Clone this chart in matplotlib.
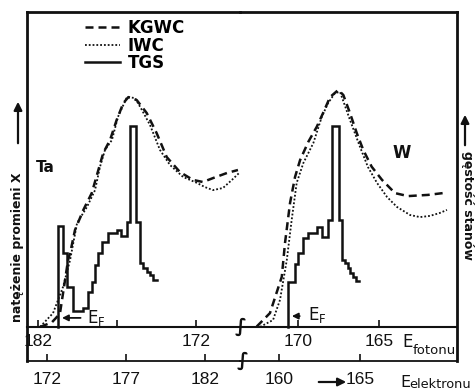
import matplotlib
matplotlib.use('Agg')
import matplotlib.pyplot as plt
import numpy as np

# ---------------- data ----------------
# Ta panel, electron-energy scale (eV)
kgwc_ta_e = [171.56, 171.87, 172.32, 172.57, 172.82, 173.14, 173.33, 173.46, 173.77, 174.30,
             174.83, 175.25, 175.56, 175.99, 176.41, 176.83, 177.15, 177.68, 178.31, 178.94,
             179.58, 180.42, 181.24, 181.87, 182.51, 183.39, 184.09]
kgwc_ta_i = [0.2, 0.8, 1.8, 3.2, 4.8, 15.8, 22.5, 24.8, 32.5, 39.2,
             44.8, 52.5, 58.2, 62.5, 69.2, 74.8, 76.8, 75.8, 71.5, 64.8,
             56.8, 51.8, 49.2, 48.5, 49.8, 51.5, 52.5]
iwc_ta_e = [171.56, 172.38, 173.01, 173.46, 173.90, 174.53, 175.04, 175.35, 175.67, 176.11,
            176.49, 177.06, 177.57, 178.01, 178.52, 179.15, 179.78, 180.61, 181.49, 182.00,
            182.51, 183.14, 183.71, 184.22]
iwc_ta_i = [0.2, 4.8, 13.5, 22.5, 34.8, 40.2, 45.8, 53.5, 59.2, 62.5,
            70.2, 76.8, 76.5, 72.5, 67.5, 59.2, 54.2, 50.2, 48.2, 46.8,
            45.8, 46.5, 49.2, 51.8]
tgs_ta_edges = [172.72, 173.03, 173.28, 173.66, 174.30, 174.61, 174.83, 175.04, 175.25, 175.46,
                175.88, 176.41, 176.66, 177.04, 177.25, 177.61, 177.89, 178.09, 178.31, 178.52,
                178.73, 178.96]
tgs_ta_vals = [33.8, 24.9, 13.6, 5.6, 6.6, 11.9, 15.3, 20.8, 24.8, 28.6,
               31.6, 32.5, 30.5, 35.3, 67.2, 35.3, 21.5, 19.8, 18.6, 17.5, 15.8]

# W panel, electron-energy scale (eV)
kgwc_w_e = [158.62, 159.44, 160.17, 160.37, 160.68, 160.99, 161.30, 161.81, 162.33, 162.72,
            163.15, 163.66, 163.97, 164.38, 164.80, 165.20, 165.72, 166.36, 167.16, 167.96,
            169.20, 170.12]
kgwc_w_i = [0.3, 4.8, 16.9, 28.2, 41.5, 50.2, 55.8, 61.9, 66.9, 71.5,
            76.8, 79.2, 77.5, 71.5, 64.8, 59.2, 53.6, 49.2, 44.8, 43.8,
            44.2, 44.8]
iwc_w_e = [158.83, 159.63, 160.06, 160.48, 160.78, 161.09, 161.50, 162.12, 162.64, 163.03,
           163.46, 163.77, 164.38, 165.00, 165.49, 166.05, 166.67, 167.28, 168.09, 168.70,
           169.32, 169.94, 170.37]
iwc_w_i = [0.2, 2.5, 9.2, 22.5, 35.8, 48.2, 54.8, 61.5, 70.2, 74.8,
           78.2, 78.5, 69.2, 60.2, 53.5, 48.2, 43.5, 40.2, 37.5, 36.8,
           37.2, 38.2, 39.2]
tgs_w_edges = [160.57, 160.99, 161.19, 161.46, 161.81, 162.33, 162.64, 163.04, 163.25, 163.70,
               163.87, 164.07, 164.24, 164.38, 164.59, 164.75, 164.96]
tgs_w_vals = [15.3, 21.2, 24.9, 29.7, 31.6, 33.4, 30.3, 35.8, 67.2, 35.8,
              22.5, 21.5, 19.8, 18.2, 16.9, 15.6]

# axes / tick values
ta_elec_ticks = [172, 177, 182]
ta_phot_ticks = [182, 177, 172]
ta_phot_labels = ['182', '', '172']
w_elec_ticks = [160, 165]
w_phot_ticks = [170, 165]
PH_TA = 353.45   # photon = PH_TA - electron (Ta panel)
PH_W = 331.2     # photon = PH_W - electron (W panel)
ta_xlim = (170.73, 184.22)
w_xlim = (157.59, 170.99)
ylim = (-11.17, 105.17)

legend_labels = ['KGWC', 'IWC', 'TGS']

# ---------------- figure ----------------
W, H = 475, 390
fig = plt.figure(figsize=(W / 100, H / 100), dpi=100)
fig.patch.set_facecolor('white')

def fx(px):
    return px / W

def fy(py):
    return 1 - py / H

bottom = fy(361)
height = (361 - 12) / H
axL = fig.add_axes([fx(27), bottom, (240 - 27) / W, height])
axR = fig.add_axes([fx(240), bottom, (457 - 240) / W, height])

TICKFONT = ['Liberation Sans', 'DejaVu Sans']
INK = '#111111'

dash_kw = dict(color=INK, lw=1.8, linestyle=(0, (3.2, 2.0)))
dot_kw = dict(color=INK, lw=1.3, linestyle=(0, (1, 1.1)))
hist_kw = dict(color=INK, lw=1.8, solid_joinstyle='miter')

def draw_hist(ax, edges, vals):
    x = np.r_[edges[0], edges]
    y = np.r_[0, vals, vals[-1]]
    return ax.step(x, y, where='post', **hist_kw)[0]

lk, = axL.plot(kgwc_ta_e, kgwc_ta_i, **dash_kw)
li, = axL.plot(iwc_ta_e, iwc_ta_i, **dot_kw)
lt = draw_hist(axL, tgs_ta_edges, tgs_ta_vals)
axR.plot(kgwc_w_e, kgwc_w_i, **dash_kw)
axR.plot(iwc_w_e, iwc_w_i, **dot_kw)
draw_hist(axR, tgs_w_edges, tgs_w_vals)

yloc = (0 - ylim[0]) / (ylim[1] - ylim[0])

for ax, xl, eticks, pticks, plabels, ph in [
        (axL, ta_xlim, ta_elec_ticks, ta_phot_ticks, ta_phot_labels, PH_TA),
        (axR, w_xlim, w_elec_ticks, w_phot_ticks, [str(t) for t in w_phot_ticks], PH_W)]:
    ax.set_xlim(*xl)
    ax.set_ylim(*ylim)
    ax.set_yticks([])
    ax.set_xticks(eticks)
    ax.set_xticklabels([str(t) for t in eticks])
    ax.tick_params(axis='x', direction='in', length=5, width=1.2, pad=8,
                   labelsize=12.5, labelfontfamily=TICKFONT, colors=INK)
    ax.set_facecolor('none')
    for s in ax.spines.values():
        s.set_linewidth(2.0)
        s.set_color(INK)
    ax.spines['bottom'].set_linewidth(1.3)
    sec = ax.secondary_xaxis(yloc, functions=(lambda e, p=ph: p - e, lambda q, p=ph: p - q))
    sec.set_alignment('bottom')
    sec.set_xticks(pticks)
    sec.set_xticklabels(plabels)
    sec.tick_params(axis='x', direction='in', length=5, width=1.2, pad=5,
                    labelsize=12.5, labelfontfamily=TICKFONT, colors=INK)
    for s in sec.spines.values():
        s.set_linewidth(1.5)
        s.set_color(INK)

axL.spines['right'].set_visible(False)
axR.spines['left'].set_visible(False)

# E_F markers
axL.annotate('', xy=(tgs_ta_edges[0] + 0.05, 3.2), xytext=(174.3, 3.2),
             arrowprops=dict(arrowstyle='-|>', color=INK, lw=1.3, mutation_scale=9))
axL.text(174.5, 1.4, r'$\mathregular{E_F}$', fontsize=12, color=INK, va='baseline', ha='left')
axR.annotate('', xy=(tgs_w_edges[0] + 0.05, 3.8), xytext=(161.45, 3.8),
             arrowprops=dict(arrowstyle='-|>', color=INK, lw=1.3, mutation_scale=9))
axR.text(161.8, 2.5, r'$\mathregular{E_F}$', fontsize=12, color=INK, va='baseline', ha='left')

# panel labels
axL.text(171.87, 53.5, 'Ta', fontsize=11, fontweight='bold', ha='center', va='center', color=INK)
axR.text(167.59, 58.2, 'W', fontsize=12, fontweight='bold', ha='center', va='center', color=INK)

# legend
axL.legend(handles=[lk, li, lt], labels=legend_labels, loc='upper left',
           bbox_to_anchor=(fx(85), fy(19)), bbox_transform=fig.transFigure,
           frameon=False, handlelength=2.1, handletextpad=0.45, labelspacing=-0.02,
           borderpad=0, borderaxespad=0,
           prop=dict(family='DejaVu Sans', weight='bold', size=12))

# break marks
fig.text(fx(241), fy(327), '\u222b', fontsize=14, fontweight='bold', ha='center', va='center', color=INK)
fig.text(fx(243), fy(360), '\u222b', fontsize=14, fontweight='bold', ha='center', va='center', color=INK)

# axis titles
fig.text(fx(17.5), fy(247), 'natężenie promieni X', rotation=90, fontsize=9,
         fontweight='bold', ha='center', va='center', color=INK)
fig.text(fx(467.5), fy(205), 'gęstość stanów', rotation=-90, fontsize=9,
         fontweight='bold', ha='center', va='center', color=INK)
arrow_kw = dict(arrowstyle='-|>', color=INK, lw=1.6, mutation_scale=12)
axL.annotate('', xy=(fx(18), fy(99)), xytext=(fx(18), fy(146)),
             xycoords='figure fraction', textcoords='figure fraction', arrowprops=arrow_kw)
axL.annotate('', xy=(fx(465), fy(112)), xytext=(fx(465), fy(148)),
             xycoords='figure fraction', textcoords='figure fraction', arrowprops=arrow_kw,
             annotation_clip=False)
axL.annotate('', xy=(fx(349), fy(382)), xytext=(fx(316), fy(382)),
             xycoords='figure fraction', textcoords='figure fraction', arrowprops=arrow_kw,
             annotation_clip=False)

fig.text(fx(402), fy(347), 'E', fontsize=12, ha='left', va='baseline', color=INK)
fig.text(fx(413), fy(353.5), 'fotonu', fontsize=9.5, ha='left', va='baseline', color=INK)
fig.text(fx(400), fy(387), 'E', fontsize=11.5, ha='left', va='baseline', color=INK)
fig.text(fx(409), fy(388.5), 'elektronu', fontsize=9.3, ha='left', va='baseline', color=INK)

fig.savefig('out.png', dpi=100, facecolor='white')
